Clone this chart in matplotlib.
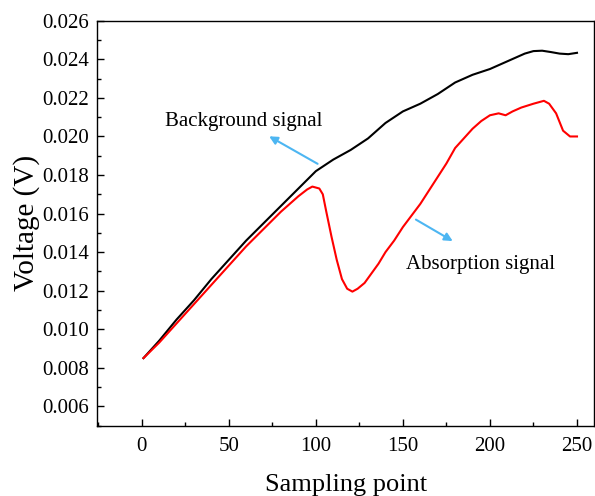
import matplotlib
matplotlib.use("Agg")
import matplotlib.pyplot as plt
from matplotlib.ticker import MultipleLocator

plt.rcParams['font.family'] = ['Liberation Serif', 'DejaVu Serif']

# background signal (black)
bg_x = [1, 10, 20, 30, 40, 50, 60, 70, 80, 90, 100, 110, 120, 130, 140,
        150, 160, 170, 180, 190, 200, 210, 220, 225, 230, 235, 240, 245, 250]
bg_y = [0.0085, 0.0094, 0.0105, 0.0115, 0.0126, 0.0136, 0.0146, 0.0155, 0.0164,
        0.0173, 0.0182, 0.0188, 0.0193, 0.0199, 0.0207, 0.0213, 0.0217, 0.0222,
        0.0228, 0.0232, 0.0235, 0.0239, 0.0243, 0.02443, 0.02445, 0.02438,
        0.0243, 0.02427, 0.02434]

# absorption signal (red)
ab_x = [1, 10, 20, 30, 40, 50, 60, 70, 80, 90, 95, 98, 102, 104, 106, 109, 112,
        115, 118, 121, 124, 128, 132, 136, 140, 145, 150, 155, 160, 165, 170,
        175, 180, 185, 190, 195, 200, 205, 209, 213, 218, 225, 231, 234, 238,
        242, 246, 250]
ab_y = [0.0085, 0.0093, 0.0103, 0.0113, 0.0123, 0.0133, 0.0143, 0.0152, 0.0161,
        0.0169, 0.01725, 0.0174, 0.0173, 0.0170, 0.0161, 0.0148, 0.0136, 0.0126,
        0.0121, 0.01195, 0.0121, 0.0124, 0.0129, 0.0134, 0.0140, 0.0146, 0.0153,
        0.0159, 0.0165, 0.0172, 0.0179, 0.0186, 0.0194, 0.0199, 0.0204, 0.0208,
        0.0211, 0.0212, 0.0211, 0.0213, 0.0215, 0.0217, 0.02185, 0.0217, 0.0212,
        0.0203, 0.0200, 0.0200]

fig = plt.figure(figsize=(5.95, 4.96), dpi=100)
ax = fig.add_axes([0.163, 0.142, 0.836, 0.816])

ax.plot(bg_x, bg_y, color='black', lw=1.5)
ax.plot(ab_x, ab_y, color='red', lw=1.5)

ax.set_xlim(-25.7, 260)
ax.set_ylim(0.005, 0.026)
ax.set_xticks([0, 50, 100, 150, 200, 250])
ax.set_yticks([0.006, 0.008, 0.010, 0.012, 0.014, 0.016, 0.018, 0.020,
               0.022, 0.024, 0.026])
ax.set_yticklabels(['%.3f' % v for v in ax.get_yticks()])
ax.xaxis.set_minor_locator(MultipleLocator(25))
ax.yaxis.set_minor_locator(MultipleLocator(0.001))
ax.tick_params(which='both', direction='in', top=False, right=False, labelsize=15)
ax.tick_params(which='major', length=5, width=1)
ax.tick_params(which='minor', length=3, width=1)
ax.tick_params(axis='x', pad=8)
ax.tick_params(axis='y', pad=6)
for s in ax.spines.values():
    s.set_linewidth(1.0)

ax.set_xlabel('Sampling point', fontsize=19, labelpad=13)
ax.set_ylabel('Voltage (V)', fontsize=21, labelpad=1)

arrow_c = '#4db6f2'
ax.annotate('', xy=(71.8, 0.02008), xytext=(102.4, 0.01851),
            arrowprops=dict(arrowstyle='-|>', color=arrow_c, lw=1.5, mutation_scale=12))
ax.text(13.4, 0.0208, 'Background signal', fontsize=15, va='center')
ax.annotate('', xy=(180, 0.0145), xytext=(156.1, 0.01576),
            arrowprops=dict(arrowstyle='-|>', color=arrow_c, lw=1.5, mutation_scale=12))
ax.text(151.9, 0.01334, 'Absorption signal', fontsize=15, va='center')

fig.savefig('out.png', dpi=100)
